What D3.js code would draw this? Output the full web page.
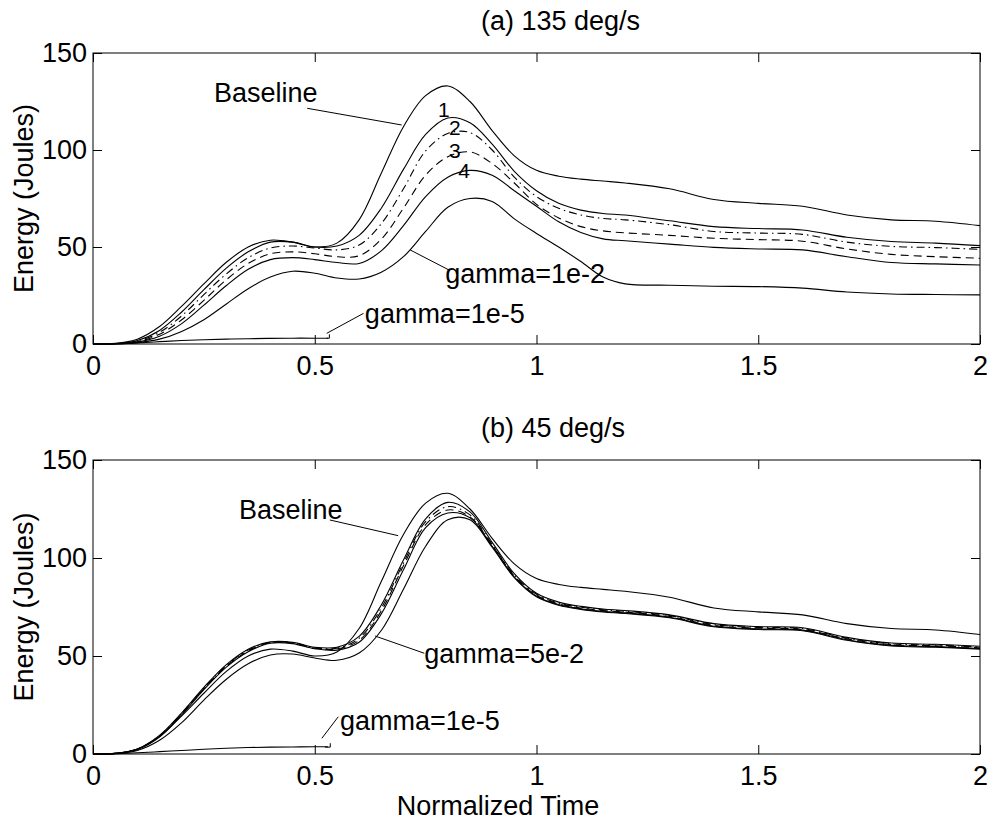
<!DOCTYPE html>
<html>
<head>
<meta charset="utf-8">
<script src="https://cdn.jsdelivr.net/npm/d3@7"></script>
<style>
  body { margin: 0; background: #fff; }
  text { font-family: "Liberation Sans", Arial, Helvetica, sans-serif; fill: #000; }
</style>
</head>
<body>
<svg id="chart" width="992" height="822"></svg>
<script>
// Normalized time samples shared by the energy curves
const timeGrid = [0, 0.05, 0.1, 0.15, 0.2, 0.25, 0.3, 0.35, 0.4, 0.45, 0.5, 0.55, 0.6,
  0.65, 0.7, 0.75, 0.8, 0.85, 0.9, 0.95, 1.0, 1.05, 1.1, 1.15, 1.2,
  1.3, 1.4, 1.5, 1.6, 1.7, 1.8, 1.9, 2.0];

// Baseline energy (same run in both panels)
const baselineEnergy = [0, 0.3, 2.5, 9, 19.5, 31, 42, 50, 53.5, 52.5, 50, 52, 64, 88, 112, 128, 133,
  125, 110, 97, 89.5, 86.5, 85, 84, 83, 80, 74.5, 72.5, 71, 66.5, 64, 63.3, 61];

// (a) 135 deg/s
const fastCurve1 = [0, 0.2, 1.8, 7, 16.5, 28, 39, 47.5, 52.5, 52.5, 50, 50.5, 56, 70, 90, 108, 116.5,
  114, 103, 89, 79, 72.5, 69, 67.3, 66.5, 63.5, 60.5, 59.5, 58.8, 55, 52.8, 52, 50.7];
const fastCurve2 = [0, 0.15, 1.5, 6, 14.5, 25.5, 36, 44.5, 49.5, 50.5, 49.5, 48.5, 51, 62, 80, 99.5, 108.5,
  109, 100, 86, 76, 70, 66.5, 64.7, 64, 61.5, 58, 57.2, 56.5, 52.5, 50.3, 49.7, 48.8];
const fastCurve3 = [0, 0.1, 1.2, 5, 12.5, 22.5, 33, 41.5, 46.5, 47.5, 46.5, 45, 45.5, 54, 70, 87, 96.5,
  99, 93, 83, 72, 65, 60.5, 58.3, 57.3, 56, 54.5, 53.8, 53, 49, 46.2, 45, 44.2];
const fastCurve4 = [0, 0.1, 1, 4, 10.5, 20, 30, 38.5, 43.5, 44.5, 43.5, 42, 41.5, 48, 61, 76, 86,
  89.5, 87, 79, 71, 63, 57.5, 54.2, 53.2, 51.5, 49.8, 49, 48.5, 45, 42, 41.3, 40.7];
const fastGamma1e2 = [0, 0.05, 0.7, 2.5, 6.5, 12.5, 20.5, 28.5, 34.5, 37.5, 36.5, 34, 33.5, 37, 45, 58, 70.5,
  75, 73.5, 64.5, 57, 50, 42.5, 34.5, 31, 30.3, 29.8, 29.6, 28.8, 26.8, 25.8, 25.5, 25.3];

// (b) 45 deg/s
const slowCurve1 = [0, 0.3, 2.6, 9.5, 21, 34, 45.5, 53.5, 57.2, 57, 54.5, 54.5, 60, 76, 99, 120, 128.4,
  123.5, 108, 92, 82, 77.5, 75.3, 74, 73.2, 71, 66.5, 65, 64.4, 59.5, 56.6, 56, 55];
const slowCurve2 = [0, 0.3, 2.5, 9.3, 20.7, 33.6, 45, 53, 57, 56.8, 54.2, 54, 59, 74.5, 97.5, 118.5, 126.2,
  122, 107, 91.3, 81.5, 77, 74.9, 73.6, 72.8, 70.6, 66, 64.6, 64, 59.1, 56.2, 55.6, 54.6];
const slowCurve3 = [0, 0.3, 2.4, 9, 20.3, 33.2, 44.6, 52.6, 56.8, 56.6, 54, 53.6, 58, 73, 96, 117, 124.5,
  121, 106.5, 90.8, 81, 76.6, 74.5, 73.2, 72.4, 70.2, 65.6, 64.2, 63.6, 58.7, 55.8, 55.2, 54.2];
const slowCurve4 = [0, 0.3, 2.3, 8.7, 20, 32.8, 44.2, 52.2, 56.5, 56.3, 53.7, 53, 57, 71.5, 94, 115.5, 123,
  120.5, 106, 90.3, 80.5, 76.2, 74.1, 72.8, 72, 69.8, 65.2, 63.8, 63.2, 58.3, 55.4, 54.8, 53.8];
const slowGamma5e2 = [0, 0.2, 1.8, 7, 16, 27.5, 38, 46, 50.5, 51, 49, 47.8, 51.5, 63, 84, 106, 119.5,
  119.5, 105.5, 90, 80.2, 75.9, 73.8, 72.5, 71.7, 69.5, 64.9, 63.5, 62.9, 58, 55.1, 54.5, 53.5];

// gamma=1e-5 runs stop at about t = 0.53
const tinyGrid = [0, 0.05, 0.1, 0.15, 0.2, 0.25, 0.3, 0.35, 0.4, 0.45, 0.5, 0.53];
const fastGamma1e5 = [0, 0.1, 0.6, 1.2, 1.8, 2.2, 2.5, 2.7, 2.9, 3.0, 3.0, 3.0];
const slowGamma1e5 = [0, 0.1, 0.6, 1.2, 1.8, 2.4, 2.9, 3.3, 3.5, 3.6, 3.7, 3.7];

// Axis ticks
const xTickValues = [0, 0.5, 1, 1.5, 2];
const xTickLabels = ["0", "0.5", "1", "1.5", "2"];
const yTickValues = [0, 50, 100, 150];
const yTickLabels = ["0", "50", "100", "150"];

const panelTitles = ["(a) 135 deg/s", "(b) 45 deg/s"];
const yAxisLabel = "Energy (Joules)";
const xAxisLabel = "Normalized Time";

const svg = d3.select("#chart");
const FONT = 27;
const LINE_STYLES = { solid: null, dashdot: "8,4,1.5,4", dashed: "8,5" };

const x = d3.scaleLinear().domain([0, 2]).range([93, 980]);

function drawPanel(cfg) {
  const y = d3.scaleLinear().domain([0, 150]).range([cfg.bottom, cfg.top]);
  const g = svg.append("g");

  // curves
  const line = (xs) => d3.line()
    .x((d, i) => x(xs[i]))
    .y(d => y(d))
    .curve(d3.curveCatmullRom.alpha(0.5));

  cfg.series.forEach(s => {
    const xs = s.xs || timeGrid;
    g.append("path")
      .attr("d", line(xs)(s.values))
      .attr("fill", "none")
      .attr("stroke", "#000")
      .attr("stroke-width", 1.1)
      .attr("stroke-dasharray", LINE_STYLES[s.style]);
  });

  // leader lines
  const lead = d3.line().x(d => x(d[0])).y(d => y(d[1]));
  cfg.leaders.forEach(pts => {
    g.append("path").attr("d", lead(pts)).attr("fill", "none")
      .attr("stroke", "#000").attr("stroke-width", 1);
  });

  // annotation texts
  cfg.notes.forEach(n => {
    g.append("text")
      .attr("x", x(n.t)).attr("y", y(n.e))
      .attr("text-anchor", n.anchor || "start")
      .attr("font-size", n.size || FONT)
      .text(n.label);
  });

  // axes with inward ticks on all four sides
  const styleAxis = sel => {
    sel.select(".domain").remove();
    sel.selectAll("line").attr("stroke", "#000");
    sel.selectAll("text").attr("font-size", FONT)
      .attr("font-family", '"Liberation Sans", Arial, Helvetica, sans-serif');
  };
  g.append("g").attr("transform", `translate(0,${cfg.bottom})`)
    .call(d3.axisBottom(x).tickValues(xTickValues).tickFormat((d, i) => xTickLabels[i])
      .tickSizeInner(-9).tickSizeOuter(0).tickPadding(12))
    .call(styleAxis);
  g.append("g").attr("transform", `translate(0,${cfg.top})`)
    .call(d3.axisTop(x).tickValues(xTickValues).tickFormat("").tickSizeInner(-9).tickSizeOuter(0))
    .call(styleAxis);
  g.append("g").attr("transform", `translate(${x(0)},0)`)
    .call(d3.axisLeft(y).tickValues(yTickValues).tickFormat((d, i) => yTickLabels[i])
      .tickSizeInner(-9).tickSizeOuter(0).tickPadding(6))
    .call(styleAxis);
  g.append("g").attr("transform", `translate(${x(2)},0)`)
    .call(d3.axisRight(y).tickValues(yTickValues).tickFormat("").tickSizeInner(-9).tickSizeOuter(0))
    .call(styleAxis);

  g.append("rect")
    .attr("x", x(0)).attr("y", y(150))
    .attr("width", x(2) - x(0)).attr("height", y(0) - y(150))
    .attr("fill", "none").attr("stroke", "#000").attr("stroke-width", 1);

  // title and y label
  g.append("text").attr("x", 481).attr("y", cfg.top - 23)
    .attr("font-size", FONT).text(cfg.title);
  g.append("text")
    .attr("transform", `translate(33,${(cfg.top + cfg.bottom) / 2}) rotate(-90)`)
    .attr("text-anchor", "middle").attr("font-size", FONT).text(yAxisLabel);
}

drawPanel({
  top: 53, bottom: 344, title: panelTitles[0],
  series: [
    { values: baselineEnergy, style: "solid" },
    { values: fastCurve1, style: "solid" },
    { values: fastCurve2, style: "dashdot" },
    { values: fastCurve3, style: "dashed" },
    { values: fastCurve4, style: "solid" },
    { values: fastGamma1e2, style: "solid" },
    { values: fastGamma1e5, xs: tinyGrid, style: "solid" }
  ],
  leaders: [
    [[0.483, 121.5], [0.696, 112.9]],
    [[0.715, 48.5], [0.803, 38.1]],
    [[0.527, 3.0], [0.533, 3.0], [0.533, 5.0]],
    [[0.527, 5.5], [0.61, 15.8]]
  ],
  notes: [
    { label: "Baseline", t: 0.273, e: 124.7 },
    { label: "1", t: 0.791, e: 117.1, anchor: "middle", size: 21 },
    { label: "2", t: 0.816, e: 107.9, anchor: "middle", size: 21 },
    { label: "3", t: 0.816, e: 96.0, anchor: "middle", size: 21 },
    { label: "4", t: 0.837, e: 85.4, anchor: "middle", size: 21 },
    { label: "gamma=1e-2", t: 0.794, e: 31.3 },
    { label: "gamma=1e-5", t: 0.613, e: 10.6 }
  ]
});

drawPanel({
  top: 460, bottom: 754, title: panelTitles[1],
  series: [
    { values: baselineEnergy, style: "solid" },
    { values: slowCurve1, style: "solid" },
    { values: slowCurve2, style: "dashdot" },
    { values: slowCurve3, style: "dashed" },
    { values: slowCurve4, style: "solid" },
    { values: slowGamma5e2, style: "solid" },
    { values: slowGamma1e5, xs: tinyGrid, style: "solid" }
  ],
  leaders: [
    [[0.534, 119.4], [0.688, 111.4]],
    [[0.636, 60.2], [0.747, 51.4]],
    [[0.523, 3.5], [0.535, 3.5], [0.535, 5.5]],
    [[0.516, 8], [0.553, 19]]
  ],
  notes: [
    { label: "Baseline", t: 0.329, e: 119.9 },
    { label: "gamma=5e-2", t: 0.747, e: 46.4 },
    { label: "gamma=1e-5", t: 0.557, e: 12.2 }
  ]
});

svg.append("text").attr("x", 498).attr("y", 815)
  .attr("text-anchor", "middle").attr("font-size", FONT).text(xAxisLabel);
</script>
</body>
</html>
